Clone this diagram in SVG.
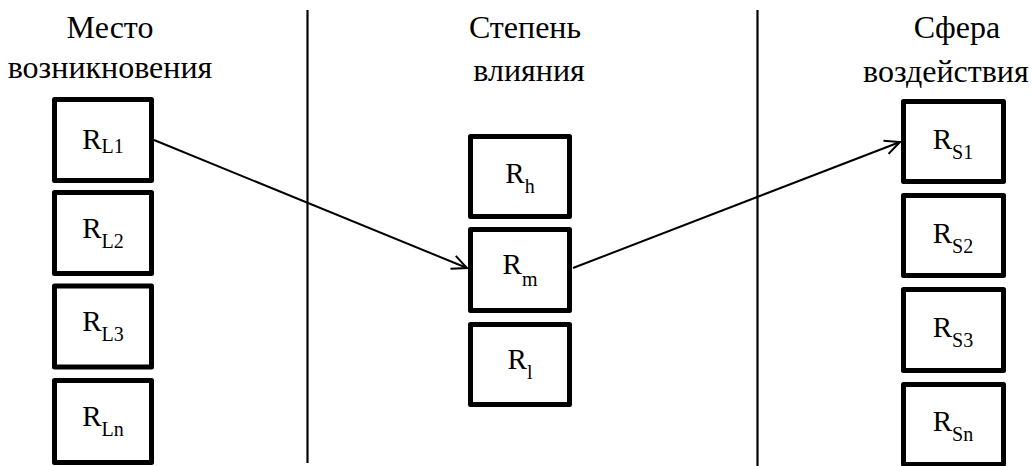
<svg xmlns="http://www.w3.org/2000/svg" width="1032" height="466" viewBox="0 0 1032 466">
<defs>
<style>
text{font-family:'Liberation Serif','Times New Roman',serif;fill:#000}
.title{font-size:32px}
.box{fill:#fff;stroke:#000;stroke-width:5;stroke-linejoin:round}
.lbl{font-size:29px;text-anchor:middle}
.sub{font-size:20px}
.div{stroke:#000;stroke-width:2.2}
.conn{stroke:#000;stroke-width:2;fill:none}
</style>
<marker id="arr" markerUnits="userSpaceOnUse" markerWidth="20" markerHeight="20" refX="0" refY="0" viewBox="-18 -10 20 20" orient="auto">
<path d="M-15,-7 L0,0 L-15,7" fill="none" stroke="#000" stroke-width="2"/>
</marker>
</defs>
<rect width="1032" height="466" fill="#fff"/>
<g id="dividers">
<line class="div" x1="307.5" y1="10" x2="307.5" y2="463"/>
<line class="div" x1="757.5" y1="10" x2="757.5" y2="466"/>
</g>
<g id="titles">
<text class="title" x="110" y="38" text-anchor="middle">Место</text>
<text class="title" x="110" y="78" text-anchor="middle">возникновения</text>
<text class="title" x="525" y="38" text-anchor="middle">Степень</text>
<text class="title" x="529" y="81" text-anchor="middle">влияния</text>
<text class="title" x="957" y="38" text-anchor="middle">Сфера</text>
<text class="title" x="863" y="82">воздействия</text>
</g>
<g id="RL1"><rect class="box" x="54.5" y="99.5" width="97" height="81"/><text class="lbl" x="103" y="149">R<tspan class="sub" dy="4">L1</tspan></text></g>
<g id="RL2"><rect class="box" x="54.5" y="192.5" width="97" height="81"/><text class="lbl" x="103" y="238">R<tspan class="sub" dy="10">L2</tspan></text></g>
<g id="RL3"><rect class="box" x="54.5" y="286" width="97" height="81"/><text class="lbl" x="103" y="331">R<tspan class="sub" dy="10">L3</tspan></text></g>
<g id="RLn"><rect class="box" x="54.5" y="380.5" width="97" height="82"/><text class="lbl" x="103" y="426">R<tspan class="sub" dy="10">Ln</tspan></text></g>
<g id="Rh"><rect class="box" x="470.5" y="136.5" width="99" height="80"/><text class="lbl" x="520" y="183">R<tspan class="sub" dy="10">h</tspan></text></g>
<g id="Rm"><rect class="box" x="470.5" y="229.5" width="99" height="81"/><text class="lbl" x="520" y="274">R<tspan class="sub" dy="12">m</tspan></text></g>
<g id="Rl"><rect class="box" x="470.5" y="324.5" width="99" height="80"/><text class="lbl" x="520" y="369">R<tspan class="sub" dy="10">l</tspan></text></g>
<g id="RS1"><rect class="box" x="903.5" y="101.5" width="100" height="80"/><text class="lbl" x="953" y="149">R<tspan class="sub" dy="10">S1</tspan></text></g>
<g id="RS2"><rect class="box" x="903.5" y="195.5" width="100" height="80"/><text class="lbl" x="953" y="243">R<tspan class="sub" dy="10">S2</tspan></text></g>
<g id="RS3"><rect class="box" x="903.5" y="289.5" width="100" height="81"/><text class="lbl" x="953" y="337">R<tspan class="sub" dy="10">S3</tspan></text></g>
<g id="RSn"><rect class="box" x="903.5" y="384.5" width="100" height="80"/><text class="lbl" x="953" y="431">R<tspan class="sub" dy="10">Sn</tspan></text></g>
<g id="connectors">
<line class="conn" x1="154" y1="140" x2="467" y2="268" marker-end="url(#arr)"/>
<line class="conn" x1="573" y1="268" x2="900" y2="142" marker-end="url(#arr)"/>
</g>
</svg>
